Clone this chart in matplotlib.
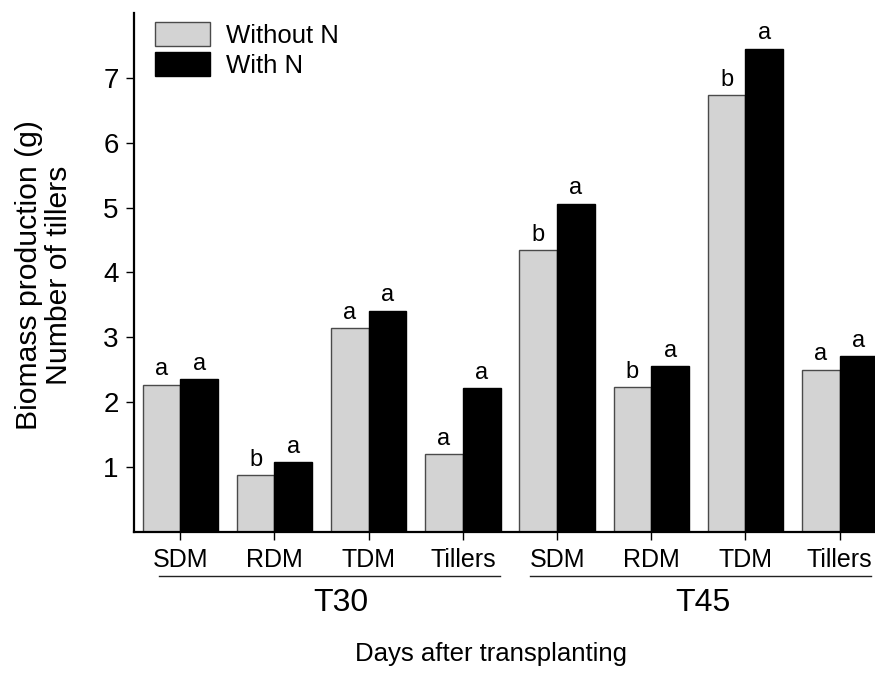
import numpy as np
import matplotlib.pyplot as plt
from matplotlib.patches import Patch
import matplotlib.transforms as mtransforms

plt.rcParams['font.family'] = ['Liberation Sans', 'DejaVu Sans']

# data
categories = ['SDM', 'RDM', 'TDM', 'Tillers', 'SDM', 'RDM', 'TDM', 'Tillers']
groups = ['T30', 'T45']
without_n = [2.27, 0.87, 3.14, 1.20, 4.34, 2.23, 6.73, 2.50]
with_n = [2.35, 1.07, 3.41, 2.21, 5.06, 2.56, 7.45, 2.71]
letters_without = ['a', 'b', 'a', 'a', 'b', 'b', 'b', 'a']
letters_with = ['a', 'a', 'a', 'a', 'a', 'a', 'a', 'a']

GRAY = '#d3d3d3'
EDGE_GRAY = '#4a4a4a'

fig = plt.figure(figsize=(8.75, 6.73), dpi=100)
ax = fig.add_axes([134 / 875, 1 - 531.7 / 673, 1 - 134 / 875, (531.7 - 13) / 673])

x = np.arange(len(categories))
w = 0.4
ax.bar(x - w / 2, without_n, w, color=GRAY, edgecolor=EDGE_GRAY, linewidth=1.0)
ax.bar(x + w / 2, with_n, w, color='black', edgecolor='black', linewidth=1.0)

# significance letters
for xi, v, t in zip(x - w / 2, without_n, letters_without):
    ax.annotate(t, (xi, v), xytext=(0, 3), textcoords='offset points',
                ha='center', va='bottom', fontsize=17)
for xi, v, t in zip(x + w / 2, with_n, letters_with):
    ax.annotate(t, (xi, v), xytext=(0, 3), textcoords='offset points',
                ha='center', va='bottom', fontsize=17)

ax.set_xlim(-0.4915, 7.375)
ax.set_ylim(0, 8)
ax.set_yticks([1, 2, 3, 4, 5, 6, 7])
ax.set_xticks(x)
ax.set_xticklabels(categories, fontsize=18)
ax.tick_params(axis='y', labelsize=20, length=6, width=1.0, direction='out', pad=5)
ax.tick_params(axis='x', length=6, width=1.0, direction='out', pad=6)

for s in ['top', 'right']:
    ax.spines[s].set_visible(False)
ax.spines['left'].set_linewidth(1.6)
ax.spines['bottom'].set_linewidth(1.6)

# group underlines and labels
trans = mtransforms.blended_transform_factory(ax.transData, ax.transAxes)
ax.plot([-0.226, 3.39], [-0.085, -0.085], color='#222222', lw=1.0,
        transform=trans, clip_on=False)
ax.plot([3.71, 7.33], [-0.085, -0.085], color='#222222', lw=1.0,
        transform=trans, clip_on=False)
ax.text(1.7, -0.1365, groups[0], transform=trans, ha='center', va='center', fontsize=23)
ax.text(5.55, -0.1365, groups[1], transform=trans, ha='center', va='center', fontsize=23)

fig.text(491 / 875, 1 - 654 / 673, 'Days after transplanting', ha='center',
         va='center', fontsize=18.5)
fig.text(44 / 875, 1 - 275 / 673, 'Biomass production (g)\nNumber of tillers',
         ha='center', va='center', rotation=90, multialignment='center',
         fontsize=21.7, linespacing=1.12)

handles = [Patch(facecolor=GRAY, edgecolor=EDGE_GRAY, linewidth=1.0),
           Patch(facecolor='black', edgecolor='black', linewidth=1.0)]
ax.legend(handles, ['Without N', 'With N'], loc='upper left',
          bbox_to_anchor=(0.0283, 0.982), frameon=False, fontsize=18.5,
          handlelength=2.15, handleheight=1.05, labelspacing=0.17,
          handletextpad=0.6, borderpad=0, borderaxespad=0)

fig.savefig('out.png', dpi=100)
